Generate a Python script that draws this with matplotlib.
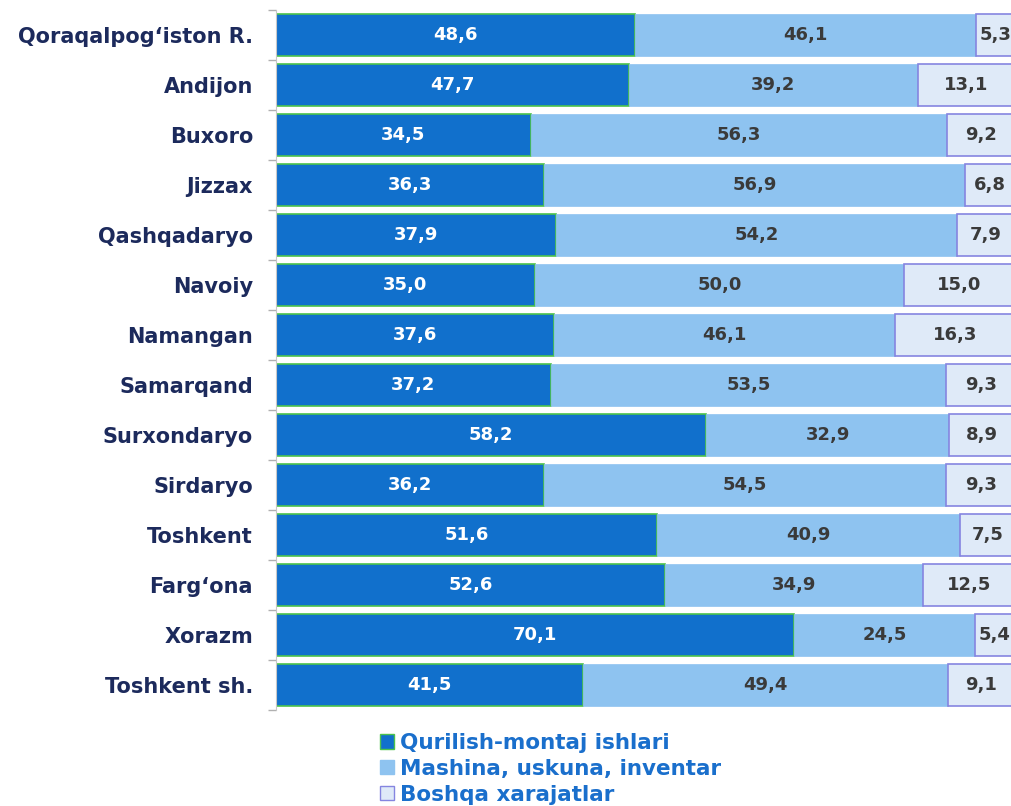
import matplotlib.pyplot as plt
from matplotlib.patches import Patch

plt.rcParams["font.family"] = ["DejaVu Sans"]

regions = [
    "Qoraqalpog‘iston R.", "Andijon", "Buxoro", "Jizzax", "Qashqadaryo",
    "Navoiy", "Namangan", "Samarqand", "Surxondaryo", "Sirdaryo",
    "Toshkent", "Farg‘ona", "Xorazm", "Toshkent sh.",
]
qurilish = [48.6, 47.7, 34.5, 36.3, 37.9, 35.0, 37.6, 37.2, 58.2, 36.2, 51.6, 52.6, 70.1, 41.5]
mashina = [46.1, 39.2, 56.3, 56.9, 54.2, 50.0, 46.1, 53.5, 32.9, 54.5, 40.9, 34.9, 24.5, 49.4]
boshqa = [5.3, 13.1, 9.2, 6.8, 7.9, 15.0, 16.3, 9.3, 8.9, 9.3, 7.5, 12.5, 5.4, 9.1]
series_names = ["Qurilish-montaj ishlari", "Mashina, uskuna, inventar", "Boshqa xarajatlar"]

c_dark = "#1170cc"
c_light = "#8ec3f0"
c_pale = "#dfeaf8"

fig = plt.figure(figsize=(10.12, 8.06), dpi=100)
ax = fig.add_axes([276 / 1012, 96 / 806, 739 / 1012, 700 / 806])

y = list(range(len(regions)))
h = 0.84
ax.barh(y, qurilish, height=h, color=c_dark, edgecolor="#4cc24c", linewidth=1.2)
ax.barh(y, mashina, left=qurilish, height=h, color=c_light, edgecolor=c_light, linewidth=0.5)
left3 = [a + b for a, b in zip(qurilish, mashina)]
ax.barh(y, boshqa, left=left3, height=h, color=c_pale, edgecolor="#8585e0", linewidth=1.2)

fmt = lambda v: f"{v:.1f}".replace(".", ",")
for i in y:
    ax.text(qurilish[i] / 2, i, fmt(qurilish[i]), ha="center", va="center",
            color="white", fontsize=13, fontweight="bold")
    ax.text(qurilish[i] + mashina[i] / 2, i, fmt(mashina[i]), ha="center", va="center",
            color="#3a3a3a", fontsize=13, fontweight="bold")
    ax.text(left3[i] + boshqa[i] / 2, i, fmt(boshqa[i]), ha="center", va="center",
            color="#3a3a3a", fontsize=13, fontweight="bold")

ax.set_xlim(0, 100)
ax.set_ylim(len(regions) - 0.5, -0.5)
ax.set_yticks(y)
ax.set_yticklabels(regions, fontsize=15, fontweight="bold", color="#1c2a5c")
ax.tick_params(axis="y", length=0, pad=16.5)
ax.set_yticks([i - 0.5 for i in range(len(regions) + 1)], minor=True)
ax.tick_params(axis="y", which="minor", length=6, color="#b0b0b0", width=1)
ax.set_xticks([])
for s in ["top", "right", "bottom"]:
    ax.spines[s].set_visible(False)
ax.spines["left"].set_color("#c8c8c8")

handles = [
    Patch(facecolor=c_dark, edgecolor="#4cc24c"),
    Patch(facecolor=c_light, edgecolor=c_light),
    Patch(facecolor=c_pale, edgecolor="#8585e0"),
]
fig.legend(handles, series_names, loc="upper left", bbox_to_anchor=(380 / 1012, 1 - 733 / 806),
           frameon=False, handlelength=0.65, handleheight=0.65, handletextpad=0.3,
           labelspacing=0.27, prop={"size": 15.5, "weight": "bold"}, labelcolor="#1a6fcc",
           borderaxespad=0, borderpad=0)

fig.savefig("out.png", dpi=100)
